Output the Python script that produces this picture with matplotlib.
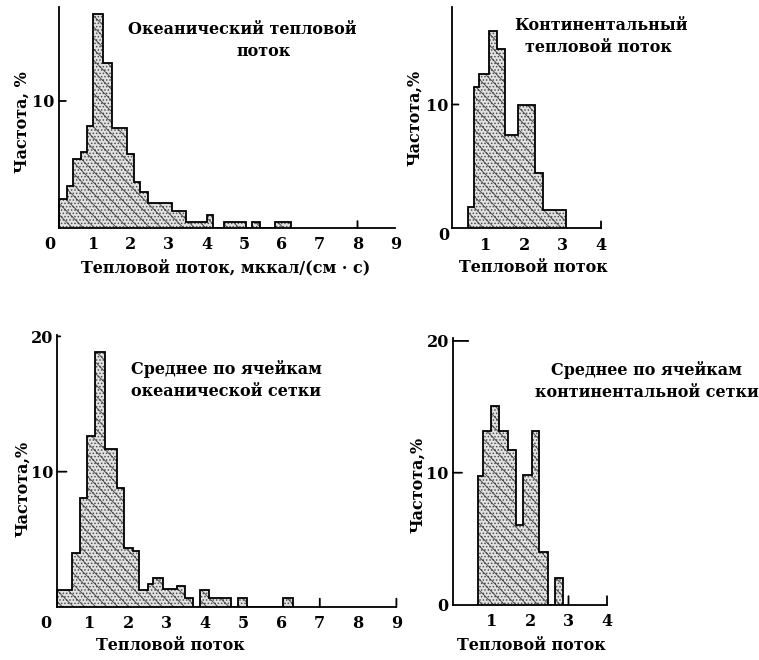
import matplotlib

matplotlib.use("Agg")
import matplotlib.pyplot as plt  # noqa: E402
from matplotlib.transforms import ScaledTranslation  # noqa: E402

W, H = 759, 660
FONT = {"family": "DejaVu Serif", "weight": "bold"}

# ---- data (heat flow bins, frequency %) ----
ocean_edges = [0.10, 0.30, 0.47, 0.67, 0.84, 1.00, 1.27, 1.49, 1.90, 2.08, 2.24,
               2.46, 3.08, 3.45, 4.02, 4.18, 4.46, 5.05, 5.21, 5.43, 5.81, 6.23]
ocean_freq = [2.3, 3.3, 5.4, 6.0, 8.0, 16.85, 13.0, 7.9, 5.8, 3.65, 2.8,
              2.0, 1.35, 0.5, 1.0, 0.0, 0.5, 0.0, 0.5, 0.0, 0.5]

cont_edges = [0.55, 0.70, 0.83, 1.09, 1.29, 1.50, 1.85, 2.28, 2.48, 3.08]
cont_freq = [1.7, 11.4, 12.5, 15.9, 14.45, 7.5, 10.0, 4.5, 1.5]

ocean_grid_edges = [0.15, 0.52, 0.74, 0.93, 1.13, 1.39, 1.70, 1.90, 2.12, 2.29, 2.51, 2.64,
                    2.90, 3.26, 3.48, 3.68, 3.87, 4.12, 4.68, 4.87, 5.09, 6.05, 6.31]
ocean_grid_freq = [1.26, 3.97, 8.03, 12.66, 18.87, 11.65, 8.77, 4.38, 4.14, 1.26, 1.70,
                   2.17, 1.31, 1.58, 0.69, 0.0, 1.26, 0.69, 0.0, 0.69, 0.0, 0.69]

cont_grid_edges = [0.64, 0.79, 0.99, 1.19, 1.43, 1.63, 1.82, 2.04, 2.24, 2.46, 2.65, 2.86]
cont_grid_freq = [9.73, 13.2, 15.1, 13.2, 11.7, 6.0, 9.8, 13.2, 4.0, 0.0, 1.98]

ocean_xticks = list(range(10))
cont_xticks = [1, 2, 3, 4]


def px(x, y):
    return x / W, 1 - y / H


def mark(ax, xy, off):
    # short tick stroke starting on an axis line
    ax.annotate("", xy=xy, xycoords="data", xytext=off, textcoords="offset points",
                arrowprops=dict(arrowstyle="-", lw=1.3, color="black",
                                shrinkA=0, shrinkB=0))


def panel(fig, rect, edges, freq, xmax, ymax, spine_x, xticks, xmarks, mark_len,
          yticks, ymarks):
    x0, y0, x1, y1 = rect  # pixel box: data x=0 .. xmax, y=0 .. ymax
    ax = fig.add_axes([x0 / W, 1 - y1 / H, (x1 - x0) / W, (y1 - y0) / H])
    ax.set_xlim(0, xmax)
    ax.set_ylim(0, ymax)
    ax.patch.set_alpha(0)
    ax.stairs(freq, edges, fill=True, facecolor="#e2e2e2", edgecolor="#505050",
              linewidth=0, hatch="\\\\\\.....")
    ax.stairs(freq, edges, color="black", linewidth=1.3)

    for s in ("top", "right"):
        ax.spines[s].set_visible(False)
    ax.spines["left"].set_position(("data", spine_x))
    ax.spines["left"].set_bounds(0, ymax)
    ax.spines["bottom"].set_bounds(spine_x, xmax)
    for s in ("left", "bottom"):
        ax.spines[s].set_linewidth(1.3)

    ax.set_xticks(xticks, [str(t) for t in xticks], **FONT, fontsize=11.5)
    ax.tick_params(axis="x", length=0, pad=6)
    if xticks[0] == 0:
        lbl = ax.get_xticklabels()[0]
        lbl.set_transform(lbl.get_transform() + ScaledTranslation(-0.055, 0, fig.dpi_scale_trans))
    for t in xmarks:
        mark(ax, (t, 0), (0, mark_len))

    ax.set_yticks(yticks, [str(t) for t in yticks], **FONT, fontsize=11.5)
    ax.tick_params(axis="y", length=0, pad=3)
    for t, ln in ymarks:
        mark(ax, (spine_x, t), (ln, 0))
    return ax


plt.rcParams["hatch.linewidth"] = 0.7
fig = plt.figure(figsize=(W / 100, H / 100), dpi=100)

# top-left: oceanic heat flow
panel(fig, (55.5, 7, 55.5 + 9 * 37.75, 228), ocean_edges, ocean_freq, 9, 17.4, 0.09,
      ocean_xticks, [8], 5, [10], [(10, 5)])
# top-right: continental heat flow
panel(fig, (447.2, 6.7, 447.2 + 4 * 38.45, 228.3), cont_edges, cont_freq, 4, 17.9, 0.13,
      cont_xticks, [4], 5, [10], [(10, 4.5)])
# bottom-left: oceanic grid average
panel(fig, (51.7, 335, 51.7 + 9 * 38.3, 607), ocean_grid_edges, ocean_grid_freq, 9, 20.1, 0.15,
      ocean_xticks, [7, 9], 6, [10, 20], [(10, 6.5), (20, 2)])
# bottom-right: continental grid average
panel(fig, (453, 338.3, 453 + 4 * 38.5, 604.5), cont_grid_edges, cont_grid_freq, 4, 20.2, 0.0,
      cont_xticks, [3, 4], 6, [0, 10, 20], [(10, 6.5), (20, 11)])

# free text (titles, axis labels) placed as in the original figure
texts = [
    (242, 29, "Океанический тепловой"),
    (264, 51, "поток"),
    (601, 26, "Континентальный"),
    (598, 48, "тепловой поток"),
    (226, 369, "Среднее по ячейкам"),
    (226, 391, "океанической сетки"),
    (646, 370, "Среднее по ячейкам"),
    (647, 392, "континентальной сетки"),
    (226, 268, "Тепловой поток, мккал/(см · с)"),
    (533, 267, "Тепловой поток"),
    (170, 646, "Тепловой поток"),
    (531, 646, "Тепловой поток"),
    (444, 235, "0"),
]
for x, y, s in texts:
    fig.text(*px(x, y), s, ha="center", va="center", fontsize=11.5, **FONT)

ylabels = [(22, 122, "Частота, %"), (415, 118, "Частота,%"),
           (23, 489, "Частота,%"), (418, 485, "Частота,%")]
for x, y, s in ylabels:
    fig.text(*px(x, y), s, ha="center", va="center", rotation=90, fontsize=11.5, **FONT)

fig.savefig("out.png", dpi=100)
